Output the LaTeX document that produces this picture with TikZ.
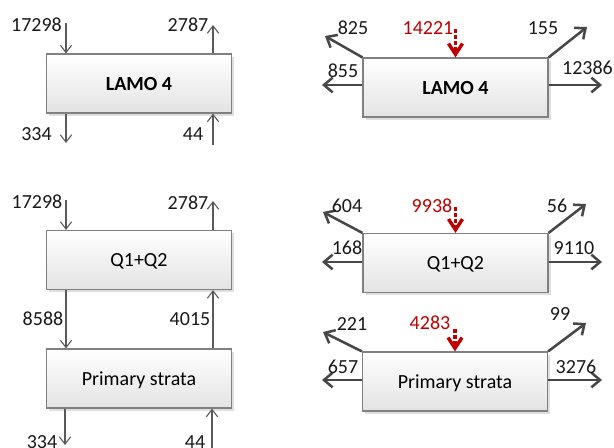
\documentclass[tikz,border=0pt]{standalone}
\usepackage{fontspec}
\setmainfont{Carlito}
\usetikzlibrary{arrows.meta,shadows}
\definecolor{redarr}{RGB}{192,0,0}
\definecolor{boxgray}{RGB}{128,128,128}
\begin{document}
\begin{tikzpicture}[x=0.75pt,y=-0.75pt,
  box/.style={draw=boxgray, line width=0.9pt, top color=white, bottom color=gray!22,
    minimum width=138.75pt, minimum height=44.25pt, inner sep=0pt, text depth=0pt,
    font=\fontsize{15}{18}\selectfont,
    drop shadow={shadow xshift=2pt,shadow yshift=-2pt,opacity=0.25}},
  lab/.style={inner sep=0pt, font=\fontsize{15}{18}\selectfont, text=black!90},
  rlab/.style={lab, text=redarr},
  thinarr/.style={draw=black!65, line width=0.8pt, -{Straight Barb[length=5.5pt,width=8.5pt]}},
  thickarr/.style={draw=black!72, line width=1.9pt, -{Straight Barb[length=6.5pt,width=11pt]}},
  redin/.style={draw=redarr, line width=2.6pt, dash pattern=on 3pt off 1.5pt,
    -{Straight Barb[length=8pt,width=10.5pt]}}
]
\useasboundingbox (0,0) rectangle (614,447);

% ---------- left: LAMO 4 ----------
\node[box,font=\fontsize{15}{18}\selectfont\bfseries] (L1) at (139,83.5) {LAMO 4};
\coordinate (L1in) at (66,23);
\coordinate (L1out) at (213,25);
\coordinate (L1d) at (66,143);
\coordinate (L1u) at (213,145);
\draw[thinarr] (L1in) -- (L1in |- L1.north);
\draw[thinarr] (L1.north -| L1out) -- (L1out);
\draw[thinarr] (L1.south -| L1d) -- (L1d);
\draw[thinarr] (L1u) -- (L1u |- L1.south);
\node[lab] (t11) at (36.5,25) {17298};
\node[lab] (t12) at (188,25) {2787};
\node[lab] (t13) at (36.5,134) {334};
\node[lab] (t14) at (193,134) {44};

% ---------- left: Q1+Q2 / Primary strata ----------
\node[box] (Q) at (139,260) {Q1+Q2};
\node[box] (P) at (139,378.5) {Primary strata};
\coordinate (Qin) at (66,200);
\coordinate (Qout) at (213,201);
\coordinate (Pd) at (65,445);
\coordinate (Pu) at (212,450);
\draw[thinarr] (Qin) -- (Qin |- Q.north);
\draw[thinarr] (Q.north -| Qout) -- (Qout);
\draw[thinarr] (Q.south -| Qin) -- (P.north -| Qin);
\draw[thinarr] (P.north -| Qout) -- (Q.south -| Qout);
\draw[thinarr] (P.south -| Pd) -- (Pd);
\draw[thinarr] (Pu) -- (Pu |- P.south);
\node[lab] (t21) at (37,201.5) {17298};
\node[lab] (t22) at (188,203) {2787};
\node[lab] (t23) at (43,319) {8588};
\node[lab] (t24) at (190,319) {4015};
\node[lab] (t25) at (42,442) {334};
\node[lab] (t26) at (195,442) {44};

% ---------- right: LAMO 4 ----------
\node[box,font=\fontsize{15}{18}\selectfont\bfseries] (R1) at (455.5,87.5) {LAMO 4};
\coordinate (R1nw) at (325,36);
\coordinate (R1l) at (322,85);
\coordinate (R1ne) at (587,27);
\coordinate (R1r) at (602,85);
\coordinate (R1top) at (455.5,29);
\draw[thickarr] (R1.north west) -- (R1nw);
\draw[thickarr] (R1.west |- R1l) -- (R1l);
\draw[thickarr] (R1.north east) -- (R1ne);
\draw[thickarr] (R1.east |- R1r) -- (R1r);
\draw[redin] (R1top) -- (R1.north);
\node[lab] (t31) at (353,28) {825};
\node[rlab] (t32) at (428,28) {14221};
\node[lab] (t33) at (543,28) {155};
\node[lab] (t34) at (343,71) {855};
\node[lab] (t35) at (587.5,68) {12386};

% ---------- right: Q1+Q2 ----------
\node[box] (R2) at (455.5,263) {Q1+Q2};
\coordinate (R2nw) at (323,212);
\coordinate (R2l) at (322,262);
\coordinate (R2ne) at (586,204);
\coordinate (R2r) at (602,262);
\coordinate (R2top) at (455.5,207);
\draw[thickarr] (R2.north west) -- (R2nw);
\draw[thickarr] (R2.west |- R2l) -- (R2l);
\draw[thickarr] (R2.north east) -- (R2ne);
\draw[thickarr] (R2.east |- R2r) -- (R2r);
\draw[redin] (R2top) -- (R2.north);
\node[lab] (t41) at (347,206) {604};
\node[rlab] (t42) at (432,206) {9938};
\node[lab] (t43) at (557,206) {56};
\node[lab] (t44) at (347,248) {168};
\node[lab] (t45) at (574,248) {9110};

% ---------- right: Primary strata ----------
\node[box] (R3) at (455,381.5) {Primary strata};
\coordinate (R3nw) at (323,332);
\coordinate (R3l) at (322,380);
\coordinate (R3ne) at (586,323);
\coordinate (R3r) at (602,380);
\coordinate (R3top) at (455,329);
\draw[thickarr] (R3.north west) -- (R3nw);
\draw[thickarr] (R3.west |- R3l) -- (R3l);
\draw[thickarr] (R3.north east) -- (R3ne);
\draw[thickarr] (R3.east |- R3r) -- (R3r);
\draw[redin] (R3top) -- (R3.north);
\node[lab] (t51) at (352,324) {221};
\node[rlab] (t52) at (430,323) {4283};
\node[lab] (t53) at (560,314) {99};
\node[lab] (t54) at (343,367) {657};
\node[lab] (t55) at (576,367) {3276};
\end{tikzpicture}
\end{document}
